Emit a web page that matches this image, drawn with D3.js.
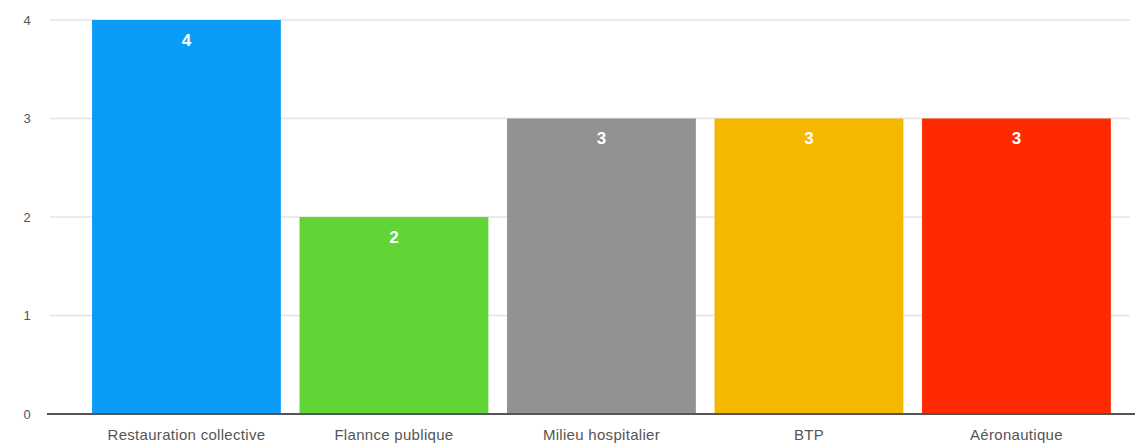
<!DOCTYPE html>
<html><head><meta charset="utf-8">
<script src="https://cdn.jsdelivr.net/npm/d3@7"></script>
<style>body{margin:0;background:#fff;}svg{display:block;font-family:"Helvetica Neue",Arial,"Liberation Sans",sans-serif;}</style>
</head><body>
<svg id="c" width="1135" height="447"></svg>
<script>
const categories = ["Restauration collective","Flannce publique","Milieu hospitalier","BTP","Aéronautique"];
const values = [4,2,3,3,3];
const colors = ["#0a9cf8","#62d536","#929292","#f5b800","#ff2a00"];
const yTicks = [0,1,2,3,4];

const svg = d3.select("#c");
const x = d3.scaleBand().domain(categories).range([82.7,1120.2]).paddingInner(0.09).paddingOuter(0.045);
const y = d3.scaleLinear().domain([0,4]).range([414,20]);

// gridlines
svg.append("g").selectAll("line").data(yTicks.filter(d=>d>0)).join("line")
  .attr("x1",50).attr("x2",1130).attr("y1",d=>y(d)).attr("y2",d=>y(d))
  .attr("stroke","#e3e3e3").attr("stroke-width",1.5);

// y labels
svg.append("g").selectAll("text").data(yTicks).join("text")
  .attr("x",27).attr("y",d=>y(d)).attr("dy","0.35em").attr("text-anchor","middle")
  .attr("font-size",13).attr("fill","#555").text(d=>d);

// bars
svg.append("g").selectAll("rect").data(categories).join("rect")
  .attr("x",d=>x(d)).attr("width",x.bandwidth())
  .attr("y",(d,i)=>y(values[i])).attr("height",(d,i)=>y(0)-y(values[i]))
  .attr("fill",(d,i)=>colors[i]);

// value labels
svg.append("g").selectAll("text").data(categories).join("text")
  .attr("x",d=>x(d)+x.bandwidth()/2).attr("y",(d,i)=>y(values[i])+20).attr("dy","0.35em")
  .attr("text-anchor","middle").attr("font-size",17).attr("font-weight","bold").attr("fill","#fff")
  .text((d,i)=>values[i]);

// axis line
svg.append("line").attr("x1",47).attr("x2",1135).attr("y1",y(0)).attr("y2",y(0))
  .attr("stroke","#555").attr("stroke-width",2);

// category labels
svg.append("g").selectAll("text").data(categories).join("text")
  .attr("x",d=>x(d)+x.bandwidth()/2).attr("y",435).attr("dy","0.35em")
  .attr("text-anchor","middle").attr("font-size",15).attr("letter-spacing","0.3px").attr("fill","#555").text(d=>d);
</script>
</body></html>
